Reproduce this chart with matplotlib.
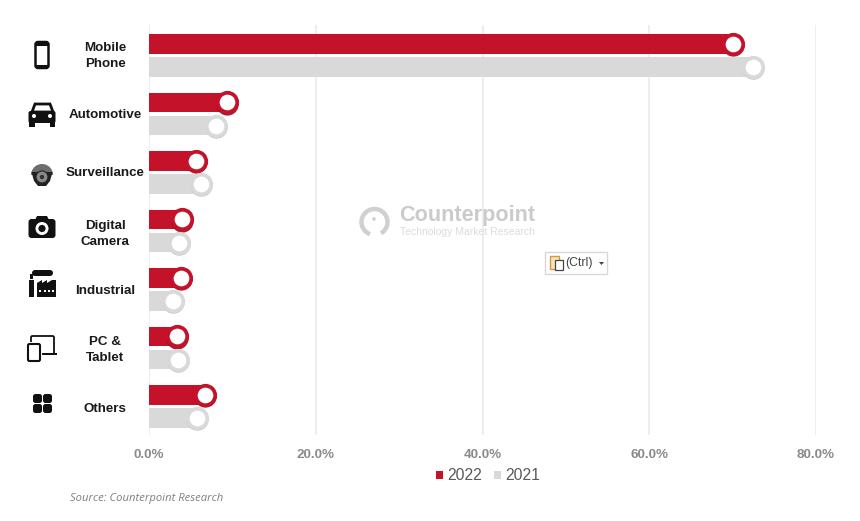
import matplotlib
matplotlib.use("Agg")
import matplotlib.pyplot as plt
from matplotlib.patches import Rectangle, FancyBboxPatch, Circle, Polygon, Wedge, Arc
import numpy as np

categories = ["Mobile\nPhone", "Automotive", "Surveillance", "Digital\nCamera", "Industrial", "PC &\nTablet", "Others"]
values_2022 = [70.0, 9.4, 5.6, 3.9, 3.8, 3.3, 6.7]
values_2021 = [72.4, 8.0, 6.2, 3.6, 2.9, 3.5, 5.7]
x_ticks = [0, 20, 40, 60, 80]
x_tick_labels = ["0.0%", "20.0%", "40.0%", "60.0%", "80.0%"]
series_names = ["2022", "2021"]

RED = "#C4122B"; DARKRED = "#8E0F22"; GREY = "#D9D9D9"; DARKGREY = "#B4B4B4"
W, H = 860, 521
plt.rcParams["font.family"] = ["Liberation Sans", "DejaVu Sans"]
fig = plt.figure(figsize=(W / 100, H / 100), dpi=100)
fig.patch.set_facecolor("white")

ax = fig.add_axes([149 / W, 1 - 435 / H, (816 - 149) / W, (435 - 25) / H])
ax.set_xlim(0, 80)
ax.set_ylim(6.487, -0.521)
for s in ax.spines.values():
    s.set_visible(False)
ax.set_xticks(x_ticks)
ax.set_xticklabels(x_tick_labels, fontsize=9.7, fontweight="bold", color="#8A8A8A")
ax.tick_params(axis="x", length=0, pad=10)
ax.set_yticks([])
ax.grid(axis="x", color="#EEEEEE", lw=1.4, zorder=0)
ax.set_axisbelow(True)

y = np.arange(len(categories))
off = 0.197; h = 0.335
ax.barh(y - off, values_2022, height=h, color=RED, zorder=2)
ax.barh(y + off, values_2021, height=h, color=GREY, zorder=2)
ms = 14.0; mew = 2.7
ax.plot(values_2022, y - off + 0.018, "o", ms=ms + 2.0, mfc=DARKRED, mec="none", zorder=3, alpha=.9, clip_on=False)
ax.plot(values_2021, y + off + 0.022, "o", ms=ms + 2.0, mfc=DARKGREY, mec="none", zorder=3, alpha=.9, clip_on=False)
ax.plot(values_2022, y - off, "o", ms=ms, mfc="white", mec=RED, mew=mew, zorder=4, clip_on=False)
ax.plot(values_2021, y + off, "o", ms=ms, mfc="white", mec=GREY, mew=mew, zorder=4, clip_on=False)

# overlay in pixel coordinates for decorations
ov = fig.add_axes([0, 0, 1, 1], facecolor="none")
ov.set_xlim(0, W); ov.set_ylim(H, 0); ov.axis("off")

label_y = [56, 115, 173, 234, 291, 350, 409]
for c, ly in zip(categories, label_y):
    ov.text(105, ly, c, ha="center", va="center", fontsize=9.6, fontweight="bold",
            color="#1A1A1A", linespacing=1.42)

K = "#111111"
# phone
ov.add_patch(FancyBboxPatch((35.5, 42), 13, 26, boxstyle="round,pad=0,rounding_size=2.5", fc="white", ec=K, lw=1.8))
ov.add_patch(Rectangle((35.5, 43), 13, 2.5, fc=K, ec="none"))
ov.add_patch(Rectangle((35.5, 65), 13, 2.5, fc=K, ec="none"))
# car
ov.add_patch(FancyBboxPatch((28.5, 111), 27, 12, boxstyle="round,pad=0,rounding_size=2", fc=K, ec="none"))
ov.add_patch(Polygon([(32, 112), (35, 104), (50, 104), (53, 112)], closed=True, fc="white", ec=K, lw=2))
ov.add_patch(Rectangle((29, 122), 5.5, 5, fc=K, ec="none"))
ov.add_patch(Rectangle((49.5, 122), 5.5, 5, fc=K, ec="none"))
ov.add_patch(Circle((34, 116), 2, fc="white", ec="none"))
ov.add_patch(Circle((50, 116), 2, fc="white", ec="none"))
# dome camera
ov.add_patch(Wedge((42, 175), 11, 180, 360, fc="#6E6E6E", ec="none"))
ov.add_patch(Polygon([(31.5, 172), (52.5, 172), (50, 181), (46, 186), (38, 186), (34, 181)], closed=True, fc="#222222", ec="none"))
ov.add_patch(Circle((42, 177), 6, fc="#8A8A8A", ec="#222222", lw=0.8))
ov.add_patch(Circle((42, 177), 2.2, fc="#333333", ec="none"))
# photo camera
ov.add_patch(FancyBboxPatch((28.5, 219), 27, 19, boxstyle="round,pad=0,rounding_size=3", fc=K, ec="none"))
ov.add_patch(Polygon([(35, 220), (37, 216), (47, 216), (49, 220)], closed=True, fc=K, ec="none"))
ov.add_patch(Circle((42, 228.5), 6.5, fc="white", ec="none"))
ov.add_patch(Circle((42, 228.5), 3.6, fc=K, ec="none"))
# factory
ov.add_patch(Rectangle((29, 280), 5, 17, fc=K, ec="none"))
ov.add_patch(Polygon([(37, 297), (37, 283), (42, 280), (42, 283), (47, 280), (47, 283), (52, 280), (56, 280), (56, 297)], closed=True, fc=K, ec="none"))
ov.add_patch(FancyBboxPatch((32, 270), 21, 6, boxstyle="round,pad=0,rounding_size=3", fc=K, ec="none"))
ov.add_patch(Rectangle((30, 274), 3, 5, fc=K, ec="none"))
for xx in (40, 44.5, 49, 53):
    ov.add_patch(Rectangle((xx - 1, 290), 2, 2, fc="white", ec="none"))
# pc & tablet
ov.add_patch(FancyBboxPatch((31, 336), 23, 18, boxstyle="round,pad=0,rounding_size=1.5", fc="white", ec=K, lw=1.3))
ov.add_patch(Rectangle((43, 353), 14, 2.2, fc=K, ec="none"))
ov.add_patch(Rectangle((27, 342), 15, 22, fc="white", ec="none"))
ov.add_patch(FancyBboxPatch((28, 344), 12, 17, boxstyle="round,pad=0,rounding_size=1.5", fc="white", ec=K, lw=1.5))
# others
for xx, yy in [(33, 394), (43, 394), (33, 404), (43, 404)]:
    ov.add_patch(FancyBboxPatch((xx, yy), 9, 9, boxstyle="round,pad=0,rounding_size=2.5", fc=K, ec="none"))

# watermark
ov.add_patch(Arc((374.5, 222), 26, 26, theta1=-250, theta2=60, ec="#D0D0D0", lw=3.2))
ov.add_patch(Circle((374, 219), 1.8, fc="#D0D0D0", ec="none"))
ov.text(399, 216, "Counterpoint", ha="left", va="center", fontsize=15.6, fontweight="bold", color="#CBCBCB")
ov.text(400, 232, "Technology Market Research", ha="left", va="center", fontsize=7.5, color="#DCDCDC")

# paste-options box
ov.add_patch(Rectangle((545, 252), 62, 22, fc="white", ec="#D8D8D8", lw=1))
ov.add_patch(Rectangle((550, 256), 9, 13, fc="#F7E3C4", ec="#D9963A", lw=1))
ov.add_patch(Rectangle((555, 260), 8, 10, fc="white", ec="#444444", lw=0.9))
ov.text(565.5, 263, "(Ctrl)", ha="left", va="center", fontsize=8.8, color="#444444")
ov.add_patch(Polygon([(599, 262), (604, 262), (601.5, 265)], closed=True, fc="#444444", ec="none"))

# legend
ov.add_patch(Rectangle((436, 471), 7, 8, fc=RED, ec="none"))
ov.text(447, 475, series_names[0], ha="left", va="center", fontsize=11.3, color="#595959")
ov.add_patch(Rectangle((494, 471), 7, 8, fc=GREY, ec="none"))
ov.text(505, 475, series_names[1], ha="left", va="center", fontsize=11.3, color="#595959")

ov.text(70, 498, "Source: Counterpoint Research", ha="left", va="center", fontsize=8.1,
        style="italic", color="#7F7F7F", family="Open Sans")

fig.savefig("out.png", dpi=100)
